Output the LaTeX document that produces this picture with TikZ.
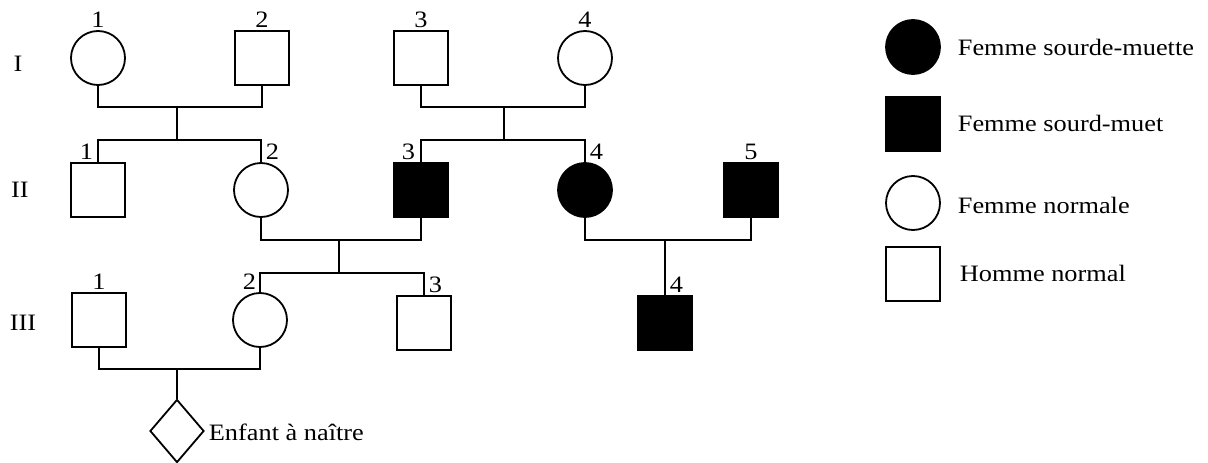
\documentclass[tikz,border=0pt]{standalone}
\usepackage{fontspec}
\setmainfont[FakeStretch=1.12]{Liberation Serif}
\usetikzlibrary{shapes.geometric}

\begin{document}
\begin{tikzpicture}[x=1pt,y=-1pt,line width=1.8pt,
  font=\fontsize{23.5}{28}\selectfont,
  femme/.style={draw,circle,minimum size=54pt,inner sep=0pt},
  homme/.style={draw,rectangle,minimum size=54pt,inner sep=0pt},
  atteint/.style={fill=black},
  num/.style={inner sep=0pt,yshift=1.5pt},
  txt/.style={inner sep=0pt,anchor=base west}]
\useasboundingbox (0,0) rectangle (1208,463);

% generations
\node (gI) at (18,64) {I};
\node (gII) at (20,190) {II};
\node (gIII) at (23,323) {III};

% generation I
\node[femme,label={[num]above:1}] (I1) at (98,58) {};
\node[homme,label={[num]above:2}] (I2) at (262,58) {};
\node[homme,label={[num]above:3}] (I3) at (421,58) {};
\node[femme,label={[num]above:4}] (I4) at (585,58) {};

% generation II
\node[homme,label={[num,anchor=south east,xshift=-4pt]north:1}] (II1) at (98,190) {};
\node[femme,label={[num,anchor=south west,xshift=4pt]north:2}] (II2) at (261,190) {};
\node[homme,atteint,label={[num,anchor=south east,xshift=-5pt]north:3}] (II3) at (421,190) {};
\node[femme,atteint,label={[num,anchor=south west,xshift=4pt]north:4}] (II4) at (585,190) {};
\node[homme,atteint,label={[num]above:5}] (II5) at (751,190) {};

% generation III
\node[homme,label={[num]above:1}] (III1) at (99,320) {};
\node[femme,label={[num,anchor=south east,xshift=-3pt]north:2}] (III2) at (260,320) {};
\node[homme,label={[num,anchor=south west,xshift=4pt]north:3}] (III3) at (424,323) {};
\node[homme,atteint,label={[num,anchor=south west,xshift=4pt]north:4}] (III4) at (665,323) {};

% enfant
\node[draw,diamond,minimum width=54pt,minimum height=63pt,inner sep=0pt] (D) at (177,431) {};
\node[txt] (enfant) at (208,440) {Enfant à naître};

% unions
\coordinate (m1) at (177,107);
\coordinate (s1) at (177,140);
\draw (I1.south) |- (m1) -| (I2.south);
\draw (m1) -- (s1);
\draw (II1.north) |- (s1) -| (II2.north);

\coordinate (m2) at (504,107);
\coordinate (s2) at (504,140);
\draw (I3.south) |- (m2) -| (I4.south);
\draw (m2) -- (s2);
\draw (II3.north) |- (s2) -| (II4.north);

\coordinate (m3) at (339,240);
\coordinate (s3) at (339,273);
\draw (II2.south) |- (m3) -| (II3.south);
\draw (m3) -- (s3);
\draw (III2.north) |- (s3) -| (III3.north);

\coordinate (m4) at (665,240);
\draw (II4.south) |- (m4) -| (II5.south);
\draw (m4) -- (III4.north);

\coordinate (m5) at (177,369);
\draw (III1.south) |- (m5) -| (III2.south);
\draw (m5) -- (D.north);

% legende
\node[femme,atteint] (L1) at (913,47) {};
\node[homme,atteint] (L2) at (913,124) {};
\node[femme] (L3) at (913,203) {};
\node[homme] (L4) at (913,274) {};
\node[txt] (t1) at (957,55) {Femme sourde-muette};
\node[txt] (t2) at (957,131.7) {Femme sourd-muet};
\node[txt] (t3) at (957,213) {Femme normale};
\node[txt] (t4) at (959,281.7) {Homme normal};

\end{tikzpicture}
\end{document}
